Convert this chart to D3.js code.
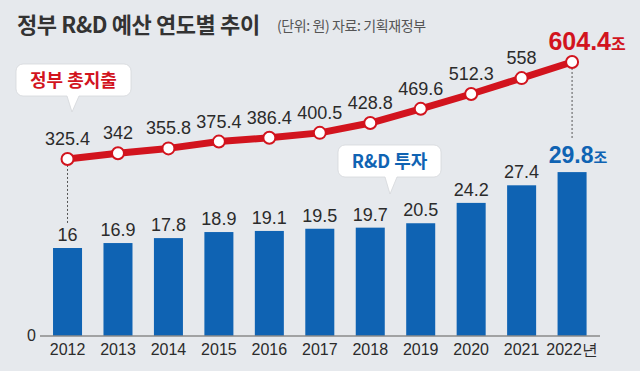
<!DOCTYPE html>
<html>
<head>
<meta charset="utf-8">
<title>정부 R&D 예산 연도별 추이</title>
<script src="https://cdn.jsdelivr.net/npm/d3@7"></script>
<style>
  body { margin: 0; background: #e6e9ed; }
  svg { display: block; }
  .num { font-family: "Liberation Sans Narrow", "Liberation Sans", sans-serif; }
  .kr { font-family: "Noto Sans CJK KR", sans-serif; }
</style>
</head>
<body>
<svg id="chart" width="640" height="371"></svg>
<script>
const years = ['2012', '2013', '2014', '2015', '2016', '2017', '2018', '2019', '2020', '2021', '2022']
const spending = [325.4, 342, 355.8, 375.4, 386.4, 400.5, 428.8, 469.6, 512.3, 558, 604.4]
const rnd = [16, 16.9, 17.8, 18.9, 19.1, 19.5, 19.7, 20.5, 24.2, 27.4, 29.8]

const red = '#d2141e'
const blue = '#0f63b3'
const ink = '#2b2b2b'

const svg = d3.select('#chart')
svg.append('rect').attr('width', 640).attr('height', 371).attr('fill', '#e6e9ed')

const x = d3.scaleBand().domain(years)
    .range([42.3, 597.3])
    .paddingInner(0.425)
    .paddingOuter(0.2125)
const yBar = d3.scaleLinear().domain([0, 30]).range([336, 171])
const yLine = d3.scaleLinear().domain([0, 600]).range([272.1, 63.5])
const cx = d => x(d) + x.bandwidth() / 2

// title
svg.append('text').attr('class', 'kr')
    .attr('x', 17).attr('y', 33)
    .attr('font-size', 22).attr('font-weight', 700)
    .attr('letter-spacing', -0.4)
    .attr('fill', '#333')
    .text('정부 R&D 예산 연도별 추이')
svg.append('text').attr('class', 'kr')
    .attr('x', 277).attr('y', 31)
    .attr('font-size', 14)
    .attr('letter-spacing', -0.4)
    .attr('fill', '#555')
    .text('(단위: 원) 자료: 기획재정부')

// bars
svg.append('g').selectAll('rect').data(rnd).join('rect')
    .attr('x', (d, i) => x(years[i]))
    .attr('y', d => yBar(d))
    .attr('width', x.bandwidth())
    .attr('height', d => yBar(0) - yBar(d))
    .attr('fill', blue)

// axis
const axis = svg.append('g')
    .attr('transform', `translate(0, ${yBar(0)})`)
    .call(d3.axisBottom(x).tickSize(0).tickPadding(8)
        .tickFormat(d => d === '2022' ? '2022년' : d))
axis.select('.domain').attr('stroke', '#8a8a8a').attr('stroke-width', 1.5)
    .attr('d', 'M40,0H600')
axis.selectAll('text').attr('class', 'num')
    .attr('font-size', 16).attr('fill', ink)
svg.append('text').attr('class', 'num')
    .attr('x', 36).attr('y', yBar(0) + 5)
    .attr('text-anchor', 'end')
    .attr('font-size', 16).attr('fill', ink)
    .text('0')

// dashed connectors
const last = years.length - 1
svg.append('g').selectAll('line').data([0, last]).join('line')
    .attr('x1', i => cx(years[i])).attr('x2', i => cx(years[i]))
    .attr('y1', i => yLine(spending[i]) + 6)
    .attr('y2', i => i === 0 ? yBar(rnd[i]) - 25 : yBar(rnd[i]) - 34)
    .attr('stroke', '#555').attr('stroke-width', 1)
    .attr('stroke-dasharray', '2,2')

// bar labels
svg.append('g').selectAll('text').data(rnd.slice(0, last)).join('text')
    .attr('class', 'num')
    .attr('x', (d, i) => cx(years[i]))
    .attr('y', d => yBar(d) - 7)
    .attr('text-anchor', 'middle')
    .attr('font-size', 18).attr('fill', ink)
    .text(d => d)
const lastBar = svg.append('text').attr('class', 'num')
    .attr('x', cx(years[last]) + 6).attr('y', yBar(rnd[last]) - 9)
    .attr('text-anchor', 'middle')
    .attr('font-size', 23).attr('font-weight', 700).attr('fill', blue)
lastBar.append('tspan').text(rnd[last])
lastBar.append('tspan').attr('class', 'kr').attr('font-size', 15).text('조')

// line
const line = d3.line()
    .x((d, i) => cx(years[i]))
    .y(d => yLine(d))
svg.append('path').datum(spending)
    .attr('d', line)
    .attr('fill', 'none')
    .attr('stroke', red).attr('stroke-width', 7)
    .attr('stroke-linejoin', 'round')
svg.append('g').selectAll('circle').data(spending).join('circle')
    .attr('cx', (d, i) => cx(years[i]))
    .attr('cy', d => yLine(d))
    .attr('r', 6)
    .attr('fill', '#fff').attr('stroke', red).attr('stroke-width', 2)

svg.append('g').selectAll('text').data(spending.slice(0, last)).join('text')
    .attr('class', 'num')
    .attr('x', (d, i) => cx(years[i]))
    .attr('y', d => yLine(d) - 14)
    .attr('text-anchor', 'middle')
    .attr('font-size', 18).attr('fill', ink)
    .text(d => d)
const lastLine = svg.append('text').attr('class', 'num')
    .attr('x', cx(years[last]) + 15).attr('y', yLine(spending[last]) - 12)
    .attr('text-anchor', 'middle')
    .attr('font-size', 25).attr('font-weight', 700).attr('fill', red)
lastLine.append('tspan').text(spending[last])
lastLine.append('tspan').attr('class', 'kr').attr('font-size', 16).text('조')

// callouts
function callout(left, top, w, h, tipX, tipY, label, color) {
    const r = 7
    const p = d3.path()
    p.moveTo(left + r, top)
    p.lineTo(left + w - r, top)
    p.arcTo(left + w, top, left + w, top + r, r)
    p.lineTo(left + w, top + h - r)
    p.arcTo(left + w, top + h, left + w - r, top + h, r)
    p.lineTo(tipX + 7, top + h)
    p.lineTo(tipX, tipY)
    p.lineTo(tipX - 5, top + h)
    p.lineTo(left + r, top + h)
    p.arcTo(left, top + h, left, top + h - r, r)
    p.lineTo(left, top + r)
    p.arcTo(left, top, left + r, top, r)
    p.closePath()
    svg.append('path').attr('d', p.toString())
        .attr('fill', '#fff')
        .attr('stroke', '#d4d7db').attr('stroke-width', 0.8)
    svg.append('text').attr('class', 'kr')
        .attr('x', left + w / 2).attr('y', top + h / 2 + 6.5)
        .attr('text-anchor', 'middle')
        .attr('font-size', 18).attr('font-weight', 700)
        .attr('fill', color)
        .text(label)
}
callout(16, 64, 115, 32, 72, 112, '정부 총지출', red)
callout(338, 145, 103, 32, 390, 194, 'R&D 투자', blue)
</script>
</body>
</html>
